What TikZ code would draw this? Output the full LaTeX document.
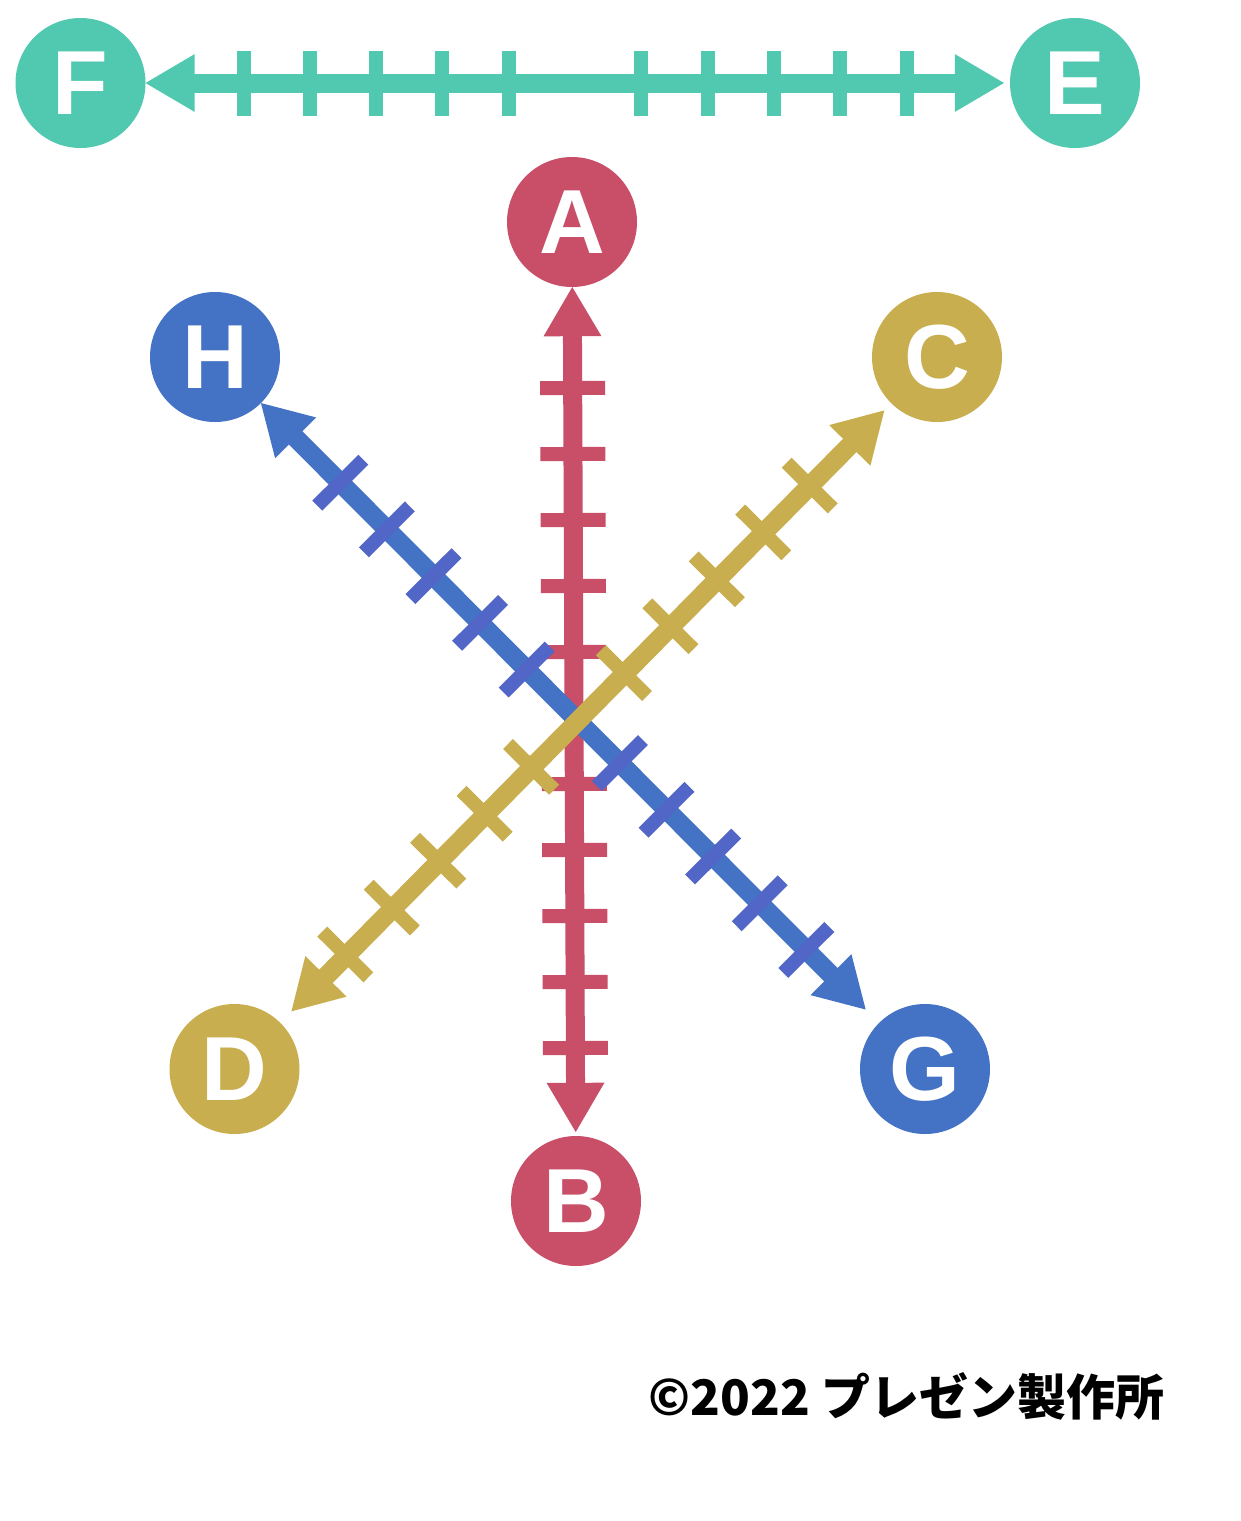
\documentclass[tikz,border=0pt]{standalone}
\usepackage{fontspec}
\setmainfont{Liberation Sans}
\newfontfamily\jpfont{Noto Sans CJK JP}
\usetikzlibrary{arrows.meta, calc}

\definecolor{tealc}{RGB}{81,200,176}
\definecolor{redc}{RGB}{200,79,103}
\definecolor{bluec}{RGB}{68,114,196}
\definecolor{bluetick}{RGB}{82,102,200}
\definecolor{yellowc}{RGB}{200,174,78}

\begin{document}
\begin{tikzpicture}[
	x=1pt, y=-1pt,
	>={Triangle[length=50pt, width=54pt]},
	letter node/.style = {circle, inner sep=0pt, minimum size=130pt, fill=#1, text=white, font=\fontsize{91}{91}\selectfont\bfseries},
	axis line/.style = {draw=#1, line width=19pt, <->},
	axis tick/.style = {draw=#1, line width=14pt},
	copyright label/.style = {anchor=base east, font=\jpfont\bfseries\fontsize{49}{49}\selectfont}
]

\fill[white] (0,0) rectangle (1240,1521);

% circles
\node[letter node=tealc] (F) at (80.5,83) {F};
\node[letter node=tealc] (E) at (1075,83) {E};
\node[letter node=redc] (A) at (572,222) {A};
\node[letter node=redc] (B) at (576,1201) {B};
\node[letter node=bluec] (H) at (215,357) {H};
\node[letter node=bluec] (G) at (925,1069) {G};
\node[letter node=yellowc] (C) at (937,357) {C};
\node[letter node=yellowc] (D) at (234.5,1069) {D};

\coordinate (mFE) at (575,83);
\coordinate (mAB) at (574,718);
\coordinate (mHG) at (573.3,716.3);
\coordinate (mDC) at (577.5,720);

% F -- E
\draw[axis line=tealc, shorten <=-1pt, shorten >=5pt] (F) -- (E);
\foreach \k in {-5,-4,-3,-2,-1,1,2,3,4,5} {
	\pgfmathsetmacro\dist{\k*66.3}
	\coordinate (t) at ($(mFE)!\dist pt!(E)$);
	\draw[axis tick=tealc] ($(t)!32.5pt!90:(E)$) -- ($(t)!32.5pt!-90:(E)$);
}

% A -- B
\draw[axis line=redc, shorten <=3pt, shorten >=-1pt] (B) -- (A);
\foreach \k in {-5,-4,-3,-2,-1,1,2,3,4,5} {
	\pgfmathsetmacro\dist{\k*66}
	\coordinate (t) at ($(mAB)!\dist pt!(B)$);
	\draw[axis tick=redc] ($(t)!32.5pt!90:(B)$) -- ($(t)!32.5pt!-90:(B)$);
}

% H -- G
\draw[axis line=bluec, shorten <=-1pt, shorten >=18pt] (H) -- (G);
\foreach \k in {-5,-4,-3,-2,-1,1,2,3,4,5} {
	\pgfmathsetmacro\dist{\k*66}
	\coordinate (t) at ($(mHG)!\dist pt!(G)$);
	\draw[axis tick=bluetick] ($(t)!32.5pt!90:(G)$) -- ($(t)!32.5pt!-90:(G)$);
}

% D -- C
\draw[axis line=yellowc, shorten <=15pt, shorten >=9pt] (D) -- (C);
\foreach \k in {-5,-4,-3,-2,-1,1,2,3,4,5} {
	\pgfmathsetmacro\dist{\k*66}
	\coordinate (t) at ($(mDC)!\dist pt!(C)$);
	\draw[axis tick=yellowc] ($(t)!32.5pt!90:(C)$) -- ($(t)!32.5pt!-90:(C)$);
}

\node[copyright label] (copy) at (1168,1415) {©2022 プレゼン製作所};

\end{tikzpicture}
\end{document}
